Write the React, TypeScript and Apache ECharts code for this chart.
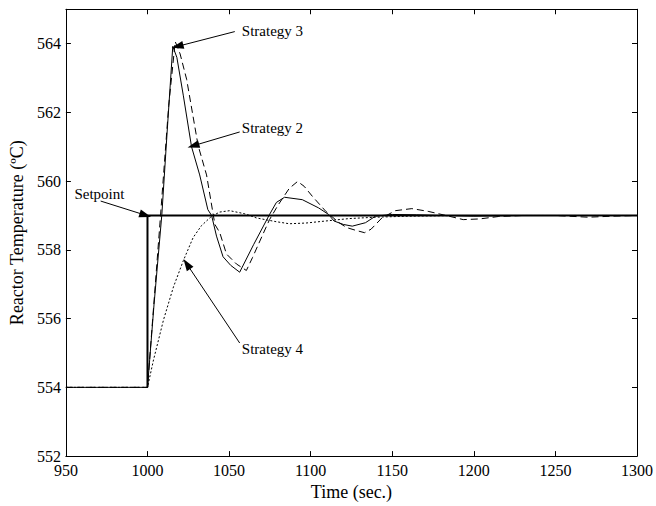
import React, { useEffect, useRef } from "react";
import * as echarts from "echarts";

// Time axis (sec.) and temperatures (°C)
const setpointTime = [1000, 1000, 1300];
const setpointTemp = [554, 559, 559];

const s2Time = [950, 1000, 1004, 1008.8, 1012, 1015.5, 1018, 1022, 1027, 1032, 1037, 1039.3, 1042.3, 1046.3, 1051, 1056.5, 1065, 1074.8, 1079, 1084, 1094.9, 1104.9, 1111, 1114.3, 1120, 1125.5, 1133.6, 1139.7, 1150, 1165, 1180, 1200, 1230, 1260, 1300];
const s2Temp = [554, 554, 556.4, 559.03, 561.4, 563.92, 563.6, 562.48, 561.0, 560.18, 559.17, 559.0, 558.4, 557.8, 557.55, 557.35, 558.15, 559.03, 559.38, 559.53, 559.46, 559.22, 559.03, 558.84, 558.74, 558.69, 558.79, 558.98, 559.03, 559.02, 559.0, 558.98, 559.0, 559.0, 559.0];

const s3Time = [950, 1000, 1008, 1013, 1017, 1020, 1024, 1031, 1036.2, 1041.3, 1044.3, 1048.4, 1054.5, 1060.6, 1064.4, 1070.7, 1074.8, 1080, 1086.9, 1092, 1096, 1101, 1109.3, 1117.4, 1122, 1127.5, 1133, 1137, 1143.7, 1151.9, 1162, 1172, 1183, 1193.5, 1203.6, 1215, 1230, 1250, 1270, 1285, 1300];
const s3Temp = [554, 554, 559.0, 562.2, 564.06, 563.7, 562.96, 561.04, 560.18, 558.74, 558.5, 557.88, 557.59, 557.4, 557.78, 558.45, 558.88, 559.3, 559.79, 559.99, 559.85, 559.56, 559.12, 558.79, 558.65, 558.57, 558.5, 558.6, 558.93, 559.14, 559.2, 559.12, 559.0, 558.88, 558.9, 558.97, 559.0, 559.0, 558.95, 558.98, 559.0];

const s4Time = [950, 1000, 1003.7, 1009.8, 1015.9, 1022, 1028, 1033, 1039.3, 1044.3, 1050.4, 1059.6, 1066.7, 1078.8, 1086.9, 1097, 1111.3, 1123.5, 1139.7, 1160, 1190, 1230, 1300];
const s4Temp = [554, 554, 554.8, 555.96, 556.92, 557.69, 558.36, 558.7, 558.98, 559.1, 559.14, 559.05, 558.93, 558.82, 558.76, 558.78, 558.85, 558.91, 558.95, 558.98, 559.0, 559.0, 559.0];

// Annotations: label text, label anchor (time, temp), arrow start, arrow tip
const annoNames = ["Strategy 3", "Strategy 2", "Setpoint", "Strategy 4"];
const annoText = [[1057.5, 564.37], [1057.5, 561.55], [954.9, 559.63], [1057.5, 555.11]];
const annoFrom = [[1053.5, 564.35], [1056.5, 561.43], [971.3, 559.42], [1056.5, 555.29]];
const annoTo = [[1018.4, 563.92], [1028.1, 561.03], [998.7, 559.01], [1024.1, 557.59]];

const xTicks = { min: 950, max: 1300, interval: 50 };
const yTicks = { min: 552, max: 565, interval: 2 };

const FONT = "'Liberation Serif', 'Times New Roman', serif";

function zip(t: number[], v: number[]) {
  return t.map((x, i) => [x, v[i]]);
}

export default function App() {
  const ref = useRef<HTMLDivElement>(null);
  useEffect(() => {
    if (!ref.current) return;
    const chart = echarts.init(ref.current, null, { renderer: "svg" });
    const axisCommon = {
      type: "value" as const,
      axisLine: { show: true, lineStyle: { color: "#000", width: 1 } },
      axisTick: { show: true, inside: true, length: 5, lineStyle: { color: "#000" } },
      splitLine: { show: false },
    };
    chart.setOption({
      animation: false,
      backgroundColor: "#fff",
      grid: { left: 65, right: 16, top: 9.25, bottom: 45 },
      xAxis: [
        {
          ...axisCommon,
          ...xTicks,
          position: "bottom",
          axisLabel: {
            color: "#000",
            fontSize: 16,
            fontFamily: FONT,
            margin: 6,
            formatter: (v: number) => String(v),
          },
          name: "Time (sec.)",
          nameLocation: "middle",
          nameGap: 24,
          nameTextStyle: { color: "#000", fontSize: 18, fontFamily: FONT },
        },
        {
          ...axisCommon,
          ...xTicks,
          position: "top",
          axisLabel: { show: false },
        },
      ],
      yAxis: [
        {
          ...axisCommon,
          ...yTicks,
          position: "left",
          axisLabel: {
            color: "#000",
            fontSize: 16,
            fontFamily: FONT,
            margin: 5,
            showMaxLabel: false,
            formatter: (v: number) => String(v),
          },
          name: "Reactor Temperature (ºC)",
          nameLocation: "middle",
          nameGap: 38,
          nameTextStyle: { color: "#000", fontSize: 18, fontFamily: FONT },
        },
        {
          ...axisCommon,
          ...yTicks,
          position: "right",
          axisLabel: { show: false },
        },
      ],
      series: [
        {
          type: "line",
          name: "Strategy 4",
          data: zip(s4Time, s4Temp),
          showSymbol: false,
          lineStyle: { color: "#000", width: 1, type: [2, 2] },
        },
        {
          type: "line",
          name: "Strategy 3",
          data: zip(s3Time, s3Temp),
          showSymbol: false,
          lineStyle: { color: "#000", width: 1, type: [7, 4] },
        },
        {
          type: "line",
          name: "Strategy 2",
          data: zip(s2Time, s2Temp),
          showSymbol: false,
          lineStyle: { color: "#000", width: 1 },
        },
        {
          type: "line",
          name: "Setpoint",
          data: zip(setpointTime, setpointTemp),
          showSymbol: false,
          lineStyle: { color: "#000", width: 2 },
          markLine: {
            silent: true,
            symbol: ["none", "triangle"],
            symbolSize: [8, 12],
            label: { show: false },
            lineStyle: { color: "#000", width: 1, type: "solid" },
            data: annoFrom.map((f, i) => [{ coord: f }, { coord: annoTo[i] }]),
          },
          markPoint: {
            silent: true,
            symbol: "circle",
            symbolSize: 1,
            itemStyle: { color: "rgba(0,0,0,0)" },
            label: {
              show: true,
              position: "right",
              distance: 0,
              color: "#000",
              fontSize: 15,
              fontFamily: FONT,
              formatter: (p: any) => p.name,
            },
            data: annoNames.map((n, i) => ({ name: n, coord: annoText[i] })),
          },
        },
      ],
    });
    return () => chart.dispose();
  }, []);
  return (
    <div
      ref={ref}
      style={{ position: "fixed", left: 0, top: 0, width: 656, height: 506, background: "#fff" }}
    />
  );
}
